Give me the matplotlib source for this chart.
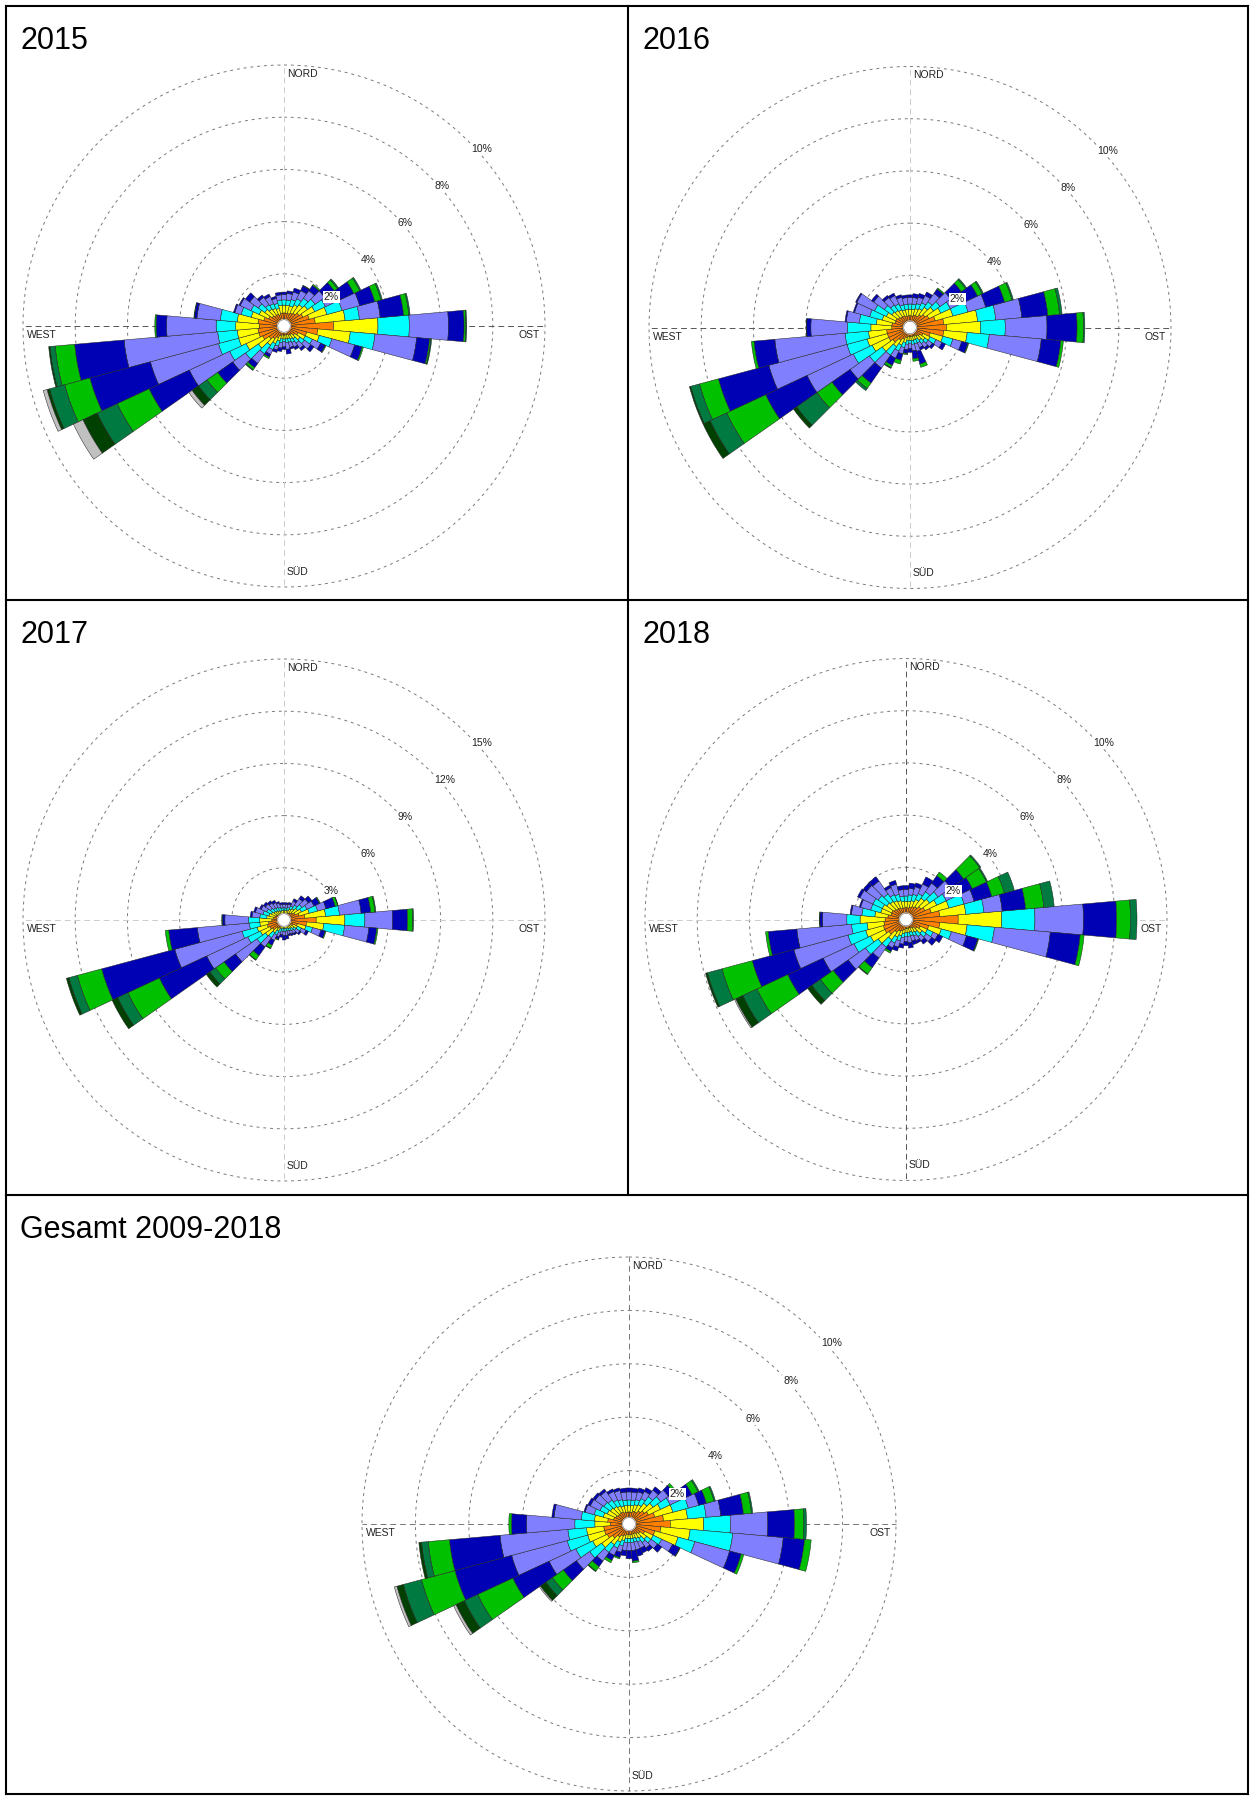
import numpy as np
import matplotlib
matplotlib.use('Agg')
import matplotlib.pyplot as plt
from matplotlib.lines import Line2D

plt.rcParams['font.family'] = ['Liberation Sans', 'DejaVu Sans']

W, H = 1251, 1798

# Windrichtung (Grad, Nord = 0, im Uhrzeigersinn), 36 Sektoren
richtungen = np.arange(0, 360, 10)

# Farben der Geschwindigkeitsklassen (innen -> aussen)
klassen_farben = ['#ff8000', '#ffff00', '#00ffff', '#8080ff', '#0000b4',
                  '#00c000', '#007a40', '#004000', '#c0c0c0']

titel = ['2015', '2016', '2017', '2018', 'Gesamt 2009-2018']

# Summenhaeufigkeit (%) je Sektor bis zur jeweiligen Klasse (fehlende Klassen = 0)
rose_2015 = [
    [0.5, 0.8, 1.0, 1.2, 1.3], [0.5, 0.8, 1.0, 1.25, 1.35], [0.5, 0.8, 1.05, 1.35, 1.5],
    [0.55, 0.9, 1.15, 1.5, 1.7, 1.72], [0.6, 1.0, 1.3, 1.65, 1.9, 1.95],
    [0.7, 1.1, 1.45, 1.9, 2.35, 2.5, 2.55], [0.8, 1.3, 1.75, 2.4, 2.95, 3.2, 3.25],
    [1.0, 1.7, 2.3, 3.0, 3.6, 3.85, 3.9], [1.2, 2.35, 2.9, 3.7, 4.6, 4.8, 4.85],
    [1.9, 3.6, 4.8, 6.3, 6.9, 6.97, 7.0], [1.3, 2.55, 3.5, 5.1, 5.6, 5.65, 5.68],
    [0.9, 1.4, 1.9, 2.8, 3.1, 3.15], [0.6, 0.9, 1.2, 1.55, 1.75, 1.78],
    [0.5, 0.75, 0.95, 1.25, 1.4], [0.4, 0.6, 0.8, 1.05, 1.15], [0.4, 0.55, 0.7, 0.9, 1.0],
    [0.35, 0.5, 0.65, 0.85, 0.92], [0.35, 0.5, 0.65, 0.9, 1.08], [0.35, 0.5, 0.6, 0.8, 0.9],
    [0.35, 0.5, 0.65, 0.85, 0.98], [0.4, 0.6, 0.8, 0.95, 1.05], [0.5, 0.75, 1.0, 1.2, 1.32, 1.38],
    [0.6, 0.9, 1.3, 1.75, 1.95, 2.05, 2.08], [0.7, 1.2, 1.8, 2.4, 3.1, 3.6, 4.0, 4.3, 4.45],
    [0.9, 1.6, 2.3, 4.0, 5.7, 7.05, 7.9, 8.5, 8.9], [1.0, 1.8, 2.6, 5.3, 7.7, 8.7, 9.3, 9.4, 9.55],
    [1.0, 1.8, 2.55, 6.15, 8.05, 8.8, 9.0, 9.05], [0.95, 1.85, 2.6, 4.5, 4.9, 4.95],
    [1.0, 1.8, 2.45, 3.35, 3.45, 3.47], [0.8, 1.3, 1.7, 1.95, 2.0], [0.65, 1.05, 1.4, 1.85, 1.9],
    [0.55, 0.9, 1.2, 1.6, 1.8], [0.5, 0.8, 1.0, 1.35, 1.45], [0.5, 0.75, 0.95, 1.25, 1.35],
    [0.45, 0.7, 0.9, 1.1, 1.18], [0.5, 0.8, 1.0, 1.2, 1.3],
]
rose_2016 = [
    [0.45, 0.7, 0.9, 1.15, 1.25], [0.45, 0.7, 0.9, 1.15, 1.3], [0.5, 0.75, 0.95, 1.2, 1.35],
    [0.5, 0.8, 1.05, 1.35, 1.5], [0.6, 0.95, 1.2, 1.6, 1.8, 1.85],
    [0.7, 1.1, 1.4, 1.9, 2.4, 2.6, 2.65], [0.8, 1.3, 1.7, 2.35, 2.85, 3.05, 3.1],
    [1.0, 1.7, 2.3, 3.0, 3.75, 4.05, 4.1], [1.3, 2.6, 3.3, 4.3, 5.3, 5.75, 5.85],
    [1.4, 2.7, 3.65, 5.25, 6.4, 6.65, 6.7], [1.3, 2.2, 3.05, 5.05, 5.8, 5.9],
    [0.8, 1.3, 1.7, 2.05, 2.3, 2.33], [0.55, 0.85, 1.1, 1.35, 1.5], [0.45, 0.7, 0.85, 1.05, 1.15],
    [0.4, 0.6, 0.75, 0.95, 1.05], [0.35, 0.5, 0.65, 0.85, 0.95], [0.35, 0.5, 0.65, 0.95, 1.45, 1.58],
    [0.35, 0.5, 0.65, 0.9, 1.2, 1.3], [0.35, 0.5, 0.6, 0.8, 0.95], [0.35, 0.5, 0.65, 0.85, 1.0, 1.05],
    [0.4, 0.6, 0.8, 1.05, 1.3, 1.45], [0.5, 0.75, 1.0, 1.3, 1.6, 1.7, 1.73],
    [0.6, 0.9, 1.3, 1.9, 2.6, 2.85, 2.95], [0.8, 1.3, 1.9, 2.8, 3.65, 4.35, 5.3, 5.45],
    [0.9, 1.6, 2.4, 4.35, 6.1, 7.75, 8.45, 8.75], [0.9, 1.7, 2.5, 5.6, 7.6, 8.35, 8.7, 8.75],
    [0.9, 1.6, 2.5, 5.2, 6.0, 6.1], [0.7, 1.5, 2.4, 3.8, 3.96, 3.98], [0.7, 1.3, 1.95, 2.45, 2.5],
    [0.6, 1.1, 1.6, 2.2, 2.25], [0.6, 1.0, 1.5, 2.25, 2.3], [0.55, 0.85, 1.2, 1.7, 1.8],
    [0.5, 0.8, 1.05, 1.4, 1.5], [0.5, 0.75, 1.0, 1.35, 1.45], [0.45, 0.7, 0.9, 1.2, 1.3],
    [0.45, 0.7, 0.9, 1.15, 1.25],
]
rose_2017 = [
    [0.35, 0.55, 0.7, 0.9, 1.0], [0.35, 0.55, 0.7, 0.9, 1.0], [0.4, 0.6, 0.75, 0.95, 1.05],
    [0.45, 0.7, 0.9, 1.2, 1.35], [0.5, 0.8, 1.05, 1.5, 1.7], [0.6, 0.95, 1.25, 1.7, 1.95],
    [0.7, 1.1, 1.45, 1.9, 2.25, 2.3], [0.9, 1.5, 2.0, 2.5, 3.05, 3.2, 3.22],
    [1.2, 2.4, 3.2, 4.45, 5.0, 5.25, 5.3], [1.85, 3.5, 4.65, 6.25, 7.1, 7.4, 7.45],
    [1.3, 2.3, 3.5, 4.9, 5.35, 5.42], [0.8, 1.3, 1.7, 2.2, 2.45, 2.5], [0.55, 0.85, 1.1, 1.4, 1.55],
    [0.45, 0.7, 0.85, 1.1, 1.2], [0.4, 0.6, 0.75, 0.95, 1.05], [0.35, 0.55, 0.7, 0.9, 1.0],
    [0.35, 0.5, 0.65, 0.85, 0.95], [0.35, 0.5, 0.65, 0.9, 1.1], [0.35, 0.5, 0.65, 0.9, 1.15],
    [0.35, 0.5, 0.65, 0.85, 1.0], [0.4, 0.55, 0.75, 1.0, 1.15, 1.2], [0.5, 0.7, 0.95, 1.3, 1.6, 1.8, 1.82],
    [0.6, 0.9, 1.25, 1.9, 2.5, 2.8, 2.83], [0.8, 1.3, 1.9, 3.4, 4.2, 4.8, 5.2, 5.45],
    [0.9, 1.5, 2.3, 4.9, 7.9, 9.9, 10.55, 10.9], [1.0, 1.6, 2.5, 6.5, 10.85, 12.3, 12.8, 12.95],
    [0.9, 1.4, 2.0, 5.0, 6.65, 6.85], [0.7, 1.4, 2.05, 3.4, 3.55, 3.58], [0.6, 1.0, 1.4, 1.85, 1.95],
    [0.55, 0.9, 1.25, 1.7, 1.8], [0.5, 0.8, 1.1, 1.45, 1.55], [0.45, 0.7, 0.95, 1.3, 1.45],
    [0.4, 0.65, 0.85, 1.2, 1.35], [0.4, 0.6, 0.8, 1.1, 1.25], [0.35, 0.55, 0.75, 1.0, 1.1],
    [0.35, 0.55, 0.7, 0.9, 1.0],
]
rose_2018 = [
    [0.45, 0.7, 0.9, 1.15, 1.3], [0.45, 0.7, 0.95, 1.2, 1.4], [0.5, 0.75, 1.0, 1.3, 1.45],
    [0.55, 0.85, 1.1, 1.5, 1.8], [0.6, 1.0, 1.3, 1.7, 2.05, 2.22],
    [0.7, 1.1, 1.5, 2.1, 2.7, 3.45, 3.5], [0.8, 1.3, 1.7, 2.2, 2.8, 3.4, 3.45],
    [1.0, 1.7, 2.3, 2.7, 3.4, 3.9, 4.3], [1.3, 2.3, 3.0, 3.7, 4.6, 5.3, 5.7],
    [2.0, 3.67, 4.94, 6.8, 8.07, 8.6, 8.85], [1.3, 2.35, 3.4, 5.55, 6.7, 6.85],
    [0.9, 1.4, 1.8, 2.4, 2.85, 2.88], [0.6, 0.9, 1.15, 1.35, 1.55], [0.5, 0.75, 0.95, 1.2, 1.4],
    [0.4, 0.6, 0.8, 1.0, 1.15], [0.35, 0.55, 0.7, 0.9, 1.0], [0.35, 0.5, 0.65, 0.85, 1.0],
    [0.35, 0.5, 0.65, 0.9, 1.1], [0.35, 0.5, 0.65, 0.85, 1.0], [0.4, 0.55, 0.7, 0.95, 1.1],
    [0.45, 0.65, 0.85, 1.1, 1.25], [0.5, 0.75, 1.0, 1.2, 1.35, 1.42],
    [0.6, 0.95, 1.3, 1.8, 2.25, 2.55, 2.58], [0.8, 1.3, 1.9, 2.7, 3.4, 4.0, 4.4, 4.6],
    [0.9, 1.5, 2.2, 3.5, 5.0, 6.3, 6.9, 7.2, 7.25], [0.9, 1.6, 2.3, 4.45, 6.1, 7.3, 7.88, 7.95],
    [0.85, 1.5, 2.1, 4.2, 5.3, 5.4], [0.8, 1.76, 2.27, 3.2, 3.3, 3.32], [0.7, 1.2, 1.7, 2.1, 2.15],
    [0.6, 1.0, 1.4, 1.8, 1.85], [0.6, 1.0, 1.4, 1.95, 2.05], [0.55, 0.9, 1.3, 1.85, 2.0],
    [0.5, 0.85, 1.2, 1.8, 2.0], [0.5, 0.8, 1.05, 1.35, 1.45], [0.45, 0.75, 1.0, 1.4, 1.55],
    [0.45, 0.7, 0.9, 1.15, 1.3],
]
rose_gesamt = [
    [0.45, 0.7, 0.9, 1.2, 1.35], [0.45, 0.7, 0.9, 1.2, 1.35], [0.5, 0.75, 0.95, 1.25, 1.4],
    [0.5, 0.8, 1.05, 1.35, 1.5], [0.6, 0.95, 1.25, 1.55, 1.7], [0.7, 1.1, 1.45, 1.8, 2.05, 2.15],
    [0.8, 1.3, 1.7, 2.2, 2.6, 2.85, 2.9], [1.0, 1.7, 2.3, 2.7, 3.0, 3.3, 3.35],
    [1.3, 2.2, 2.9, 3.45, 4.3, 4.6, 4.65], [1.55, 2.8, 3.8, 5.2, 6.2, 6.55, 6.65],
    [1.2, 2.3, 3.9, 5.8, 6.6, 6.85], [1.0, 1.9, 2.55, 3.9, 4.35, 4.45],
    [0.65, 1.0, 1.35, 1.8, 2.1, 2.12], [0.5, 0.8, 1.0, 1.3, 1.5], [0.45, 0.65, 0.85, 1.1, 1.25],
    [0.4, 0.6, 0.75, 1.0, 1.2], [0.4, 0.55, 0.7, 1.0, 1.25], [0.4, 0.55, 0.7, 1.0, 1.4, 1.46],
    [0.4, 0.55, 0.7, 1.0, 1.3], [0.4, 0.55, 0.7, 1.0, 1.2], [0.45, 0.65, 0.85, 1.1, 1.3, 1.35],
    [0.5, 0.75, 1.0, 1.3, 1.5, 1.6], [0.6, 0.95, 1.3, 1.7, 1.95, 2.15, 2.18],
    [0.75, 1.25, 1.8, 2.4, 3.0, 3.5, 3.8, 4.05, 4.1], [0.9, 1.5, 2.2, 3.3, 4.8, 6.25, 6.8, 7.15, 7.25],
    [0.95, 1.6, 2.4, 4.55, 6.75, 8.05, 8.75, 9.0, 9.1], [0.95, 1.6, 2.3, 4.85, 6.75, 7.55, 7.8, 7.9],
    [0.7, 1.28, 2.03, 3.84, 4.4, 4.5], [0.8, 1.3, 1.8, 2.82, 2.9], [0.6, 1.0, 1.35, 1.7, 1.75],
    [0.55, 0.9, 1.2, 1.6, 1.7], [0.5, 0.85, 1.15, 1.55, 1.65], [0.5, 0.8, 1.1, 1.5, 1.6],
    [0.5, 0.75, 1.0, 1.35, 1.45], [0.45, 0.7, 0.95, 1.3, 1.4], [0.45, 0.7, 0.9, 1.2, 1.35],
]

ringe_2015 = [2, 4, 6, 8, 10]
ringe_2016 = [2, 4, 6, 8, 10]
ringe_2017 = [3, 6, 9, 12, 15]
ringe_2018 = [2, 4, 6, 8, 10]
ringe_gesamt = [2, 4, 6, 8, 10]

fig = plt.figure(figsize=(W / 100, H / 100), dpi=100)


def linie(x0, y0, x1, y1):
    fig.add_artist(Line2D([x0 / W, x1 / W], [1 - y0 / H, 1 - y1 / H], color='black', lw=1.5))


def auffuellen(zeilen):
    # kumulierte Werte auf 9 Klassen auffuellen
    out = np.zeros((len(zeilen), len(klassen_farben)))
    for i, z in enumerate(zeilen):
        out[i, :len(z)] = z
        out[i, len(z):] = z[-1]
    return out


def windrose(cx, cy, R, ringe, zeilen, h_farbe, v_farbe):
    rmax = ringe[-1]
    f = 1.02
    ax = fig.add_axes([(cx - R * f) / W, 1 - (cy + R * f) / H, 2 * R * f / W, 2 * R * f / H],
                      projection='polar')
    ax.set_theta_zero_location('N')
    ax.set_theta_direction(-1)
    ax.set_ylim(0, rmax * f)
    ax.axis('off')

    th = np.linspace(0, 2 * np.pi, 361)
    for r in ringe:
        ax.plot(th, np.full_like(th, r), color='#7a7a7a', lw=0.7, ls=(0, (3, 4)), zorder=1)
    # Achsenkreuz
    for t, c in [(np.pi / 2, h_farbe), (3 * np.pi / 2, h_farbe), (0, v_farbe), (np.pi, v_farbe)]:
        ax.plot([t, t], [0, rmax], color=c, lw=0.7, ls=(0, (6, 4)), zorder=1)

    kum = auffuellen(zeilen)
    theta = np.deg2rad(richtungen)
    breite = np.deg2rad(10)
    unten = np.zeros(len(theta))
    for k, farbe in enumerate(klassen_farben):
        hoehe = kum[:, k] - unten
        m = hoehe > 0
        ax.bar(theta[m], hoehe[m], width=breite, bottom=unten[m], color=farbe,
               edgecolor='#222222', linewidth=0.35, zorder=2)
        unten = kum[:, k].copy()

    # weisser Kreis in der Mitte
    r0 = rmax * 0.024
    ax.fill(th, np.full_like(th, r0), color='white', zorder=3)
    ax.plot(th, np.full_like(th, r0), color='#666666', lw=0.4, zorder=3)

    txt = dict(fontsize=7.5, color='#222222', textcoords='offset pixels', zorder=4)
    ax.annotate('NORD', xy=(0, rmax), xytext=(3, -4), ha='left', va='top', **txt)
    ax.annotate('SÜD', xy=(np.pi, rmax), xytext=(3, 10), ha='left', va='bottom', **txt)
    ax.annotate('WEST', xy=(3 * np.pi / 2, rmax), xytext=(4, -4), ha='left', va='top', **txt)
    ax.annotate('OST', xy=(np.pi / 2, rmax), xytext=(-5, -4), ha='right', va='top', **txt)
    for r in ringe:
        ax.annotate(f'{r}%', xy=(np.pi / 4, r), xytext=(3, -3), ha='left', va='top',
                    bbox=dict(boxstyle='square,pad=0.1', fc='white', ec='none'), **txt)
    return ax


windrose(284, 326, 261, ringe_2015, rose_2015, '#555555', '#cccccc')
windrose(910, 327.5, 261, ringe_2016, rose_2016, '#555555', '#cccccc')
windrose(284, 920, 261, ringe_2017, rose_2017, '#cccccc', '#cccccc')
windrose(906, 919.5, 261, ringe_2018, rose_2018, '#cccccc', '#555555')
windrose(629, 1524, 267, ringe_gesamt, rose_gesamt, '#777777', '#777777')

# Titel
for (x, y), t in zip([(20, 49), (643, 49), (20, 643), (643, 643), (20, 1238)], titel):
    fig.text(x / W, 1 - y / H, t, fontsize=22, ha='left', va='baseline', color='black')

# Rahmen
linie(6, 6, 1248, 6)
linie(6, 1794, 1248, 1794)
linie(6, 6, 6, 1794)
linie(1248, 6, 1248, 1794)
linie(628, 6, 628, 1195)
linie(6, 600, 1248, 600)
linie(6, 1195, 1248, 1195)

fig.savefig('out.png', dpi=100)
